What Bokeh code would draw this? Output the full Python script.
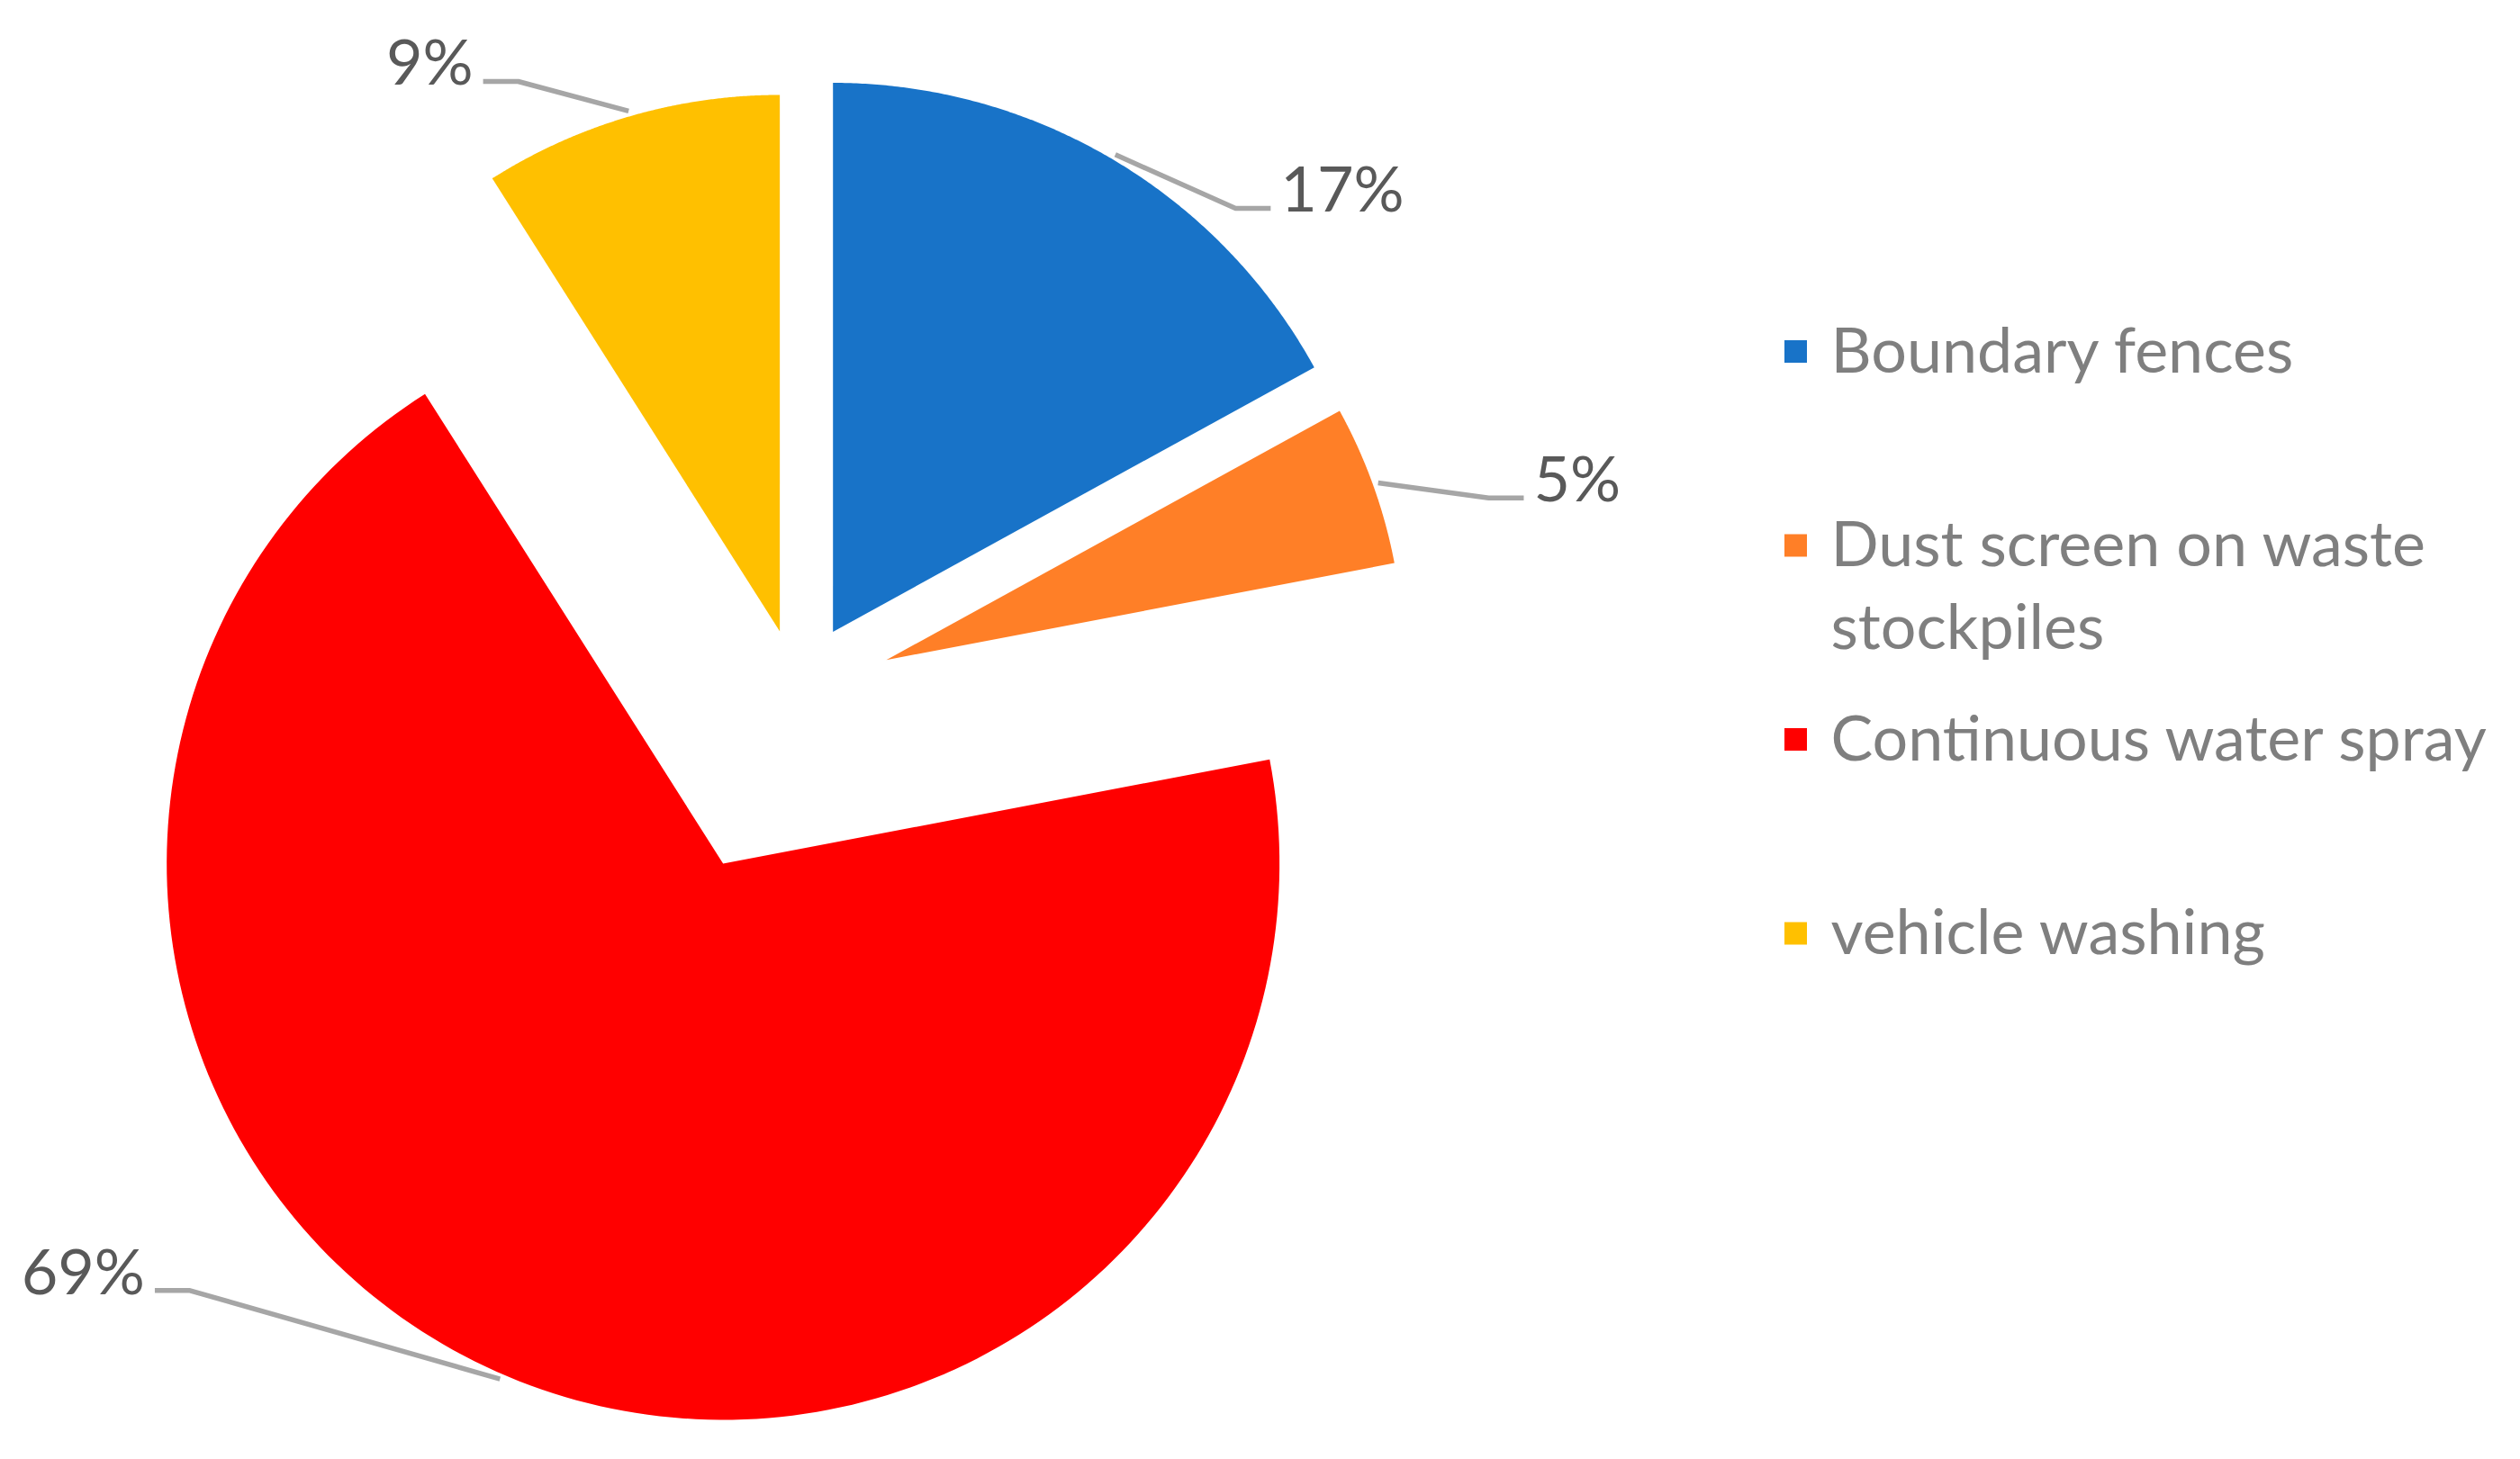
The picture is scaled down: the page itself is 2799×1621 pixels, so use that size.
import math
import textwrap
import numpy as np
from bokeh.plotting import figure
from bokeh.models import Range1d, ColumnDataSource
from bokeh.embed import file_html
from bokeh.resources import INLINE
from bokeh.core.properties import value

# ---------------- data ----------------
categories = ["Boundary fences", "Dust screen on waste stockpiles",
              "Continuous water spray", "vehicle washing"]
shares = [17, 5, 69, 9]
pct_labels = ["17%", "5%", "69%", "9%"]
colors = ["#1873C8", "#FF7F27", "#FF0000", "#FFC000"]

# ---------------- layout / style ----------------
W, H = 2790, 1612
CX, CY = 885.2, 768.3                 # pie centre (page pixels)
radius = [610, 574.5, 618, 596]        # per-slice radius
explode = [77.6, 105, 207.8, 70.1]     # per-slice explosion
leader_offset = [(133.6, 59.7), (122.8, 16.6), (-344.4, -98.4), (-122.6, -32.9)]
leader_h = 39
text_gap = 11
TEXT_SHIFT = -25                      # baseline correction
label_font = value("Lato")
LABEL_COLOR = "#595959"
LEGEND_COLOR = "#7F7F7F"
LEADER_COLOR = "#A6A6A6"

p = figure(width=W, height=H, output_backend="svg", toolbar_location=None,
           x_axis_type=None, y_axis_type=None, min_border=0,
           x_range=Range1d(0, W), y_range=Range1d(H, 0))
p.grid.visible = False
p.outline_line_color = None
p.background_fill_color = "white"
p.border_fill_color = "white"


def d(theta):
    return np.sin(theta), -np.cos(theta)


total = float(sum(shares))
starts, ends = [], []
acc = 0.0
for s in shares:
    starts.append(acc / total * 2 * math.pi)
    acc += s
    ends.append(acc / total * 2 * math.pi)

xs, ys = [], []
lx, ly = [], []
tx, ty, talign = [], [], []
for i in range(len(shares)):
    mid = (starts[i] + ends[i]) / 2
    mx, my = d(mid)
    ax = CX + explode[i] * mx
    ay = CY + explode[i] * my
    th = np.linspace(starts[i], ends[i], 200)
    px, py = d(th)
    xs.append(list(np.concatenate([[ax], ax + radius[i] * px])))
    ys.append(list(np.concatenate([[ay], ay + radius[i] * py])))
    # leader line
    sx = ax + (radius[i] + 6) * mx
    sy = ay + (radius[i] + 6) * my
    ex = sx + leader_offset[i][0]
    ey = sy + leader_offset[i][1]
    sign = 1 if mx > 0 else -1
    hx = ex + sign * leader_h
    lx.append([sx, ex, hx])
    ly.append([sy, ey, ey])
    tx.append(hx + sign * text_gap)
    ty.append(ey + 2 + TEXT_SHIFT)
    talign.append("left" if sign > 0 else "right")

p.patches(xs, ys, fill_color=colors, line_color=None)
p.multi_line(lx, ly, line_color=LEADER_COLOR, line_width=5.5)

src = ColumnDataSource(dict(x=tx, y=ty, t=pct_labels, a=talign))
p.text(x="x", y="y", text="t", source=src, text_align="a",
       text_baseline="alphabetic", text_font=label_font,
       text_font_size="70px", text_color=LABEL_COLOR)

# ---------------- legend ----------------
LEG_SQ_X = 1994
LEG_Y0 = 390
LEG_STEP = 215.5
LEG_SQ = 25
LEG_TX = 2033
LINE_H = 92
sq_x, sq_y = [], []
lt_x, lt_y, lt_t = [], [], []
for i, name in enumerate(categories):
    cy = LEG_Y0 + i * LEG_STEP
    sq_x.append(LEG_SQ_X)
    sq_y.append(cy)
    for j, line in enumerate(textwrap.wrap(name, 22)):
        lt_x.append(LEG_TX)
        lt_y.append(cy + 24 + TEXT_SHIFT - 3 + j * LINE_H)
        lt_t.append(line)

p.rect(x=sq_x, y=sq_y, width=LEG_SQ, height=LEG_SQ, fill_color=colors, line_color=None)
p.text(x=lt_x, y=lt_y, text=lt_t, text_align="left", text_baseline="alphabetic",
       text_font=label_font, text_font_size="70px", text_color=LEGEND_COLOR)

open("out.html", "w").write(file_html(p, INLINE))
